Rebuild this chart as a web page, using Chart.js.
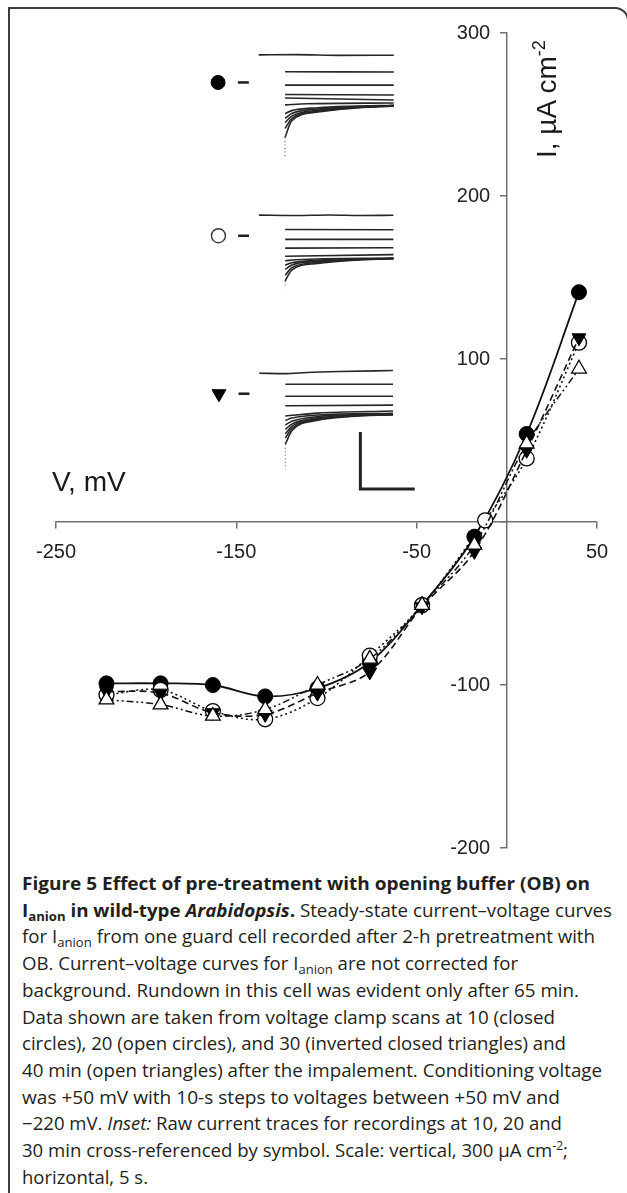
<!DOCTYPE html>
<html>
<head>
<meta charset="utf-8">
<script src="https://cdn.jsdelivr.net/npm/chart.js@4.4.1/dist/chart.umd.min.js"></script>
<style>
html,body{margin:0;padding:0;background:#fff;}
body{width:627px;height:1193px;position:relative;overflow:hidden;font-family:"Liberation Sans",Arial,sans-serif;color:#222;}
#frame{position:absolute;left:8px;top:7px;width:621px;height:1220px;border:2px solid #3c3c3c;border-top-right-radius:14px;box-sizing:border-box;}
canvas{position:absolute;}
#iv{left:0;top:0;}
#p1{left:198px;top:28px;}
#p2{left:198px;top:186px;}
#p3{left:198px;top:342px;}
.title{position:absolute;font-size:28px;line-height:28px;white-space:nowrap;color:#1a1a1a;}
#vtitle{left:52px;top:468px;}
#ititle{left:533px;top:158px;transform-origin:0 0;transform:rotate(-90deg);}
#ititle sup{font-size:18px;vertical-align:11px;line-height:0;}
#caption{position:absolute;left:22px;top:870px;font-family:"Open Sans","Noto Sans",sans-serif;font-size:18px;line-height:26.73px;color:#231f20;}
.ln{display:block;white-space:nowrap;width:max-content;transform-origin:0 50%;height:26.73px;}
.ln sub{font-size:70%;vertical-align:-4px;line-height:0;}
.ln sup{font-size:65%;vertical-align:7px;line-height:0;}
b{font-weight:700;}
</style>
</head>
<body>
<div id="frame"></div>
<canvas id="iv" width="627" height="870"></canvas>
<canvas id="p1" width="229" height="150"></canvas>
<canvas id="p2" width="229" height="120"></canvas>
<canvas id="p3" width="229" height="164"></canvas>
<div class="title" id="vtitle">V, mV</div>
<div class="title" id="ititle">I, µA cm<sup>-2</sup></div>
<div id="caption">
<span class="ln" data-w="568"><b>Figure 5 Effect of pre-treatment with opening buffer (OB) on</b></span>
<span class="ln" data-w="590"><b>I<sub>anion</sub> in wild-type <i>Arabidopsis</i>.</b> Steady-state current–voltage curves</span>
<span class="ln" data-w="573">for I<sub>anion</sub> from one guard cell recorded after 2-h pretreatment with</span>
<span class="ln" data-w="496">OB. Current–voltage curves for I<sub>anion</sub> are not corrected for</span>
<span class="ln" data-w="557">background. Rundown in this cell was evident only after 65 min.</span>
<span class="ln" data-w="533">Data shown are taken from voltage clamp scans at 10 (closed</span>
<span class="ln" data-w="544">circles), 20 (open circles), and 30 (inverted closed triangles) and</span>
<span class="ln" data-w="580">40 min (open triangles) after the impalement. Conditioning voltage</span>
<span class="ln" data-w="538">was +50 mV with 10-s steps to voltages between +50 mV and</span>
<span class="ln" data-w="540">−220 mV. <i>Inset:</i> Raw current traces for recordings at 10, 20 and</span>
<span class="ln" data-w="546">30 min cross-referenced by symbol. Scale: vertical, 300 µA cm<sup>-2</sup>;</span>
<span class="ln" data-w="126">horizontal, 5 s.</span>
</div>
<script>
// ---------- main current-voltage data (mV, µA cm-2) ----------
const voltage = [-222, -192, -163, -134, -105, -76, -47, -18, 11, 40];
const voltageOpenCircles = [-222, -192, -163, -134, -105, -76, -47, -12, 11, 40];
const closedCircles10min = [-99, -99, -100, -107, -102, -86, -51, -9, 54, 141];
const openCircles20min = [-106, -103, -116, -121, -108, -82, -51, 1, 39, 110];
const closedTriangles30min = [-104, -105, -117, -118, -105, -92, -52, -18, 44, 113];
const openTriangles40min = [-109, -112, -119, -115, -100, -84, -51, -14, 48, 94];
const xTickValues = [-250, -150, -50, 50];
const yTickValues = [300, 200, 100, 0, -100, -200];

// ---------- inset raw current traces: [time s, current µA cm-2] ----------
const traces10min = [
  [[-2.4,145],[1,146],[5,142],[9.9,143]],
  [[0,56],[9.9,55]],
  [[0,-14],[9.9,-14]],
  [[0,-63],[9.9,-66]],
  [[0,-82],[9.9,-92]],
  [[0,-118],[2,-112],[9.9,-108]],
  [[0,-164],[0.6,-148],[3,-133],[6,-125],[9.9,-120]],
  [[0,-188],[0.6,-163],[3,-140],[6,-129],[9.9,-121]],
  [[0,-211],[0.6,-177],[3,-146],[6,-132],[9.9,-122]],
  [[0,-242],[0.6,-190],[3,-151],[6,-134],[9.9,-123]],
  [[0,-289],[0.6,-202],[3,-155],[6,-136],[9.9,-124]]
];
const transient10min = [[0,-289],[0,-390]];
const traces20min = [
  [[-2.4,112],[1,110],[4,113],[7,110],[9.9,111]],
  [[0,34],[9.9,32]],
  [[0,-20],[9.9,-20]],
  [[0,-68],[9.9,-66]],
  [[0,-112],[9.9,-103]],
  [[0,-137],[1,-131],[9.9,-122]],
  [[0,-161],[0.6,-148],[3,-134],[6,-127],[9.9,-123]],
  [[0,-184],[0.6,-160],[3,-140],[6,-130],[9.9,-124]],
  [[0,-216],[0.6,-175],[3,-146],[6,-133],[9.9,-125]],
  [[0,-247],[0.6,-188],[3,-151],[6,-135],[9.9,-126]]
];
const transient20min = [[0,-247],[0,-286]];
const traces30min = [
  [[-2.4,108],[0,106],[2,112],[5,117],[9.9,122]],
  [[0,50],[9.9,50]],
  [[0,-13],[9.9,-13]],
  [[0,-63],[9.9,-60]],
  [[0,-117],[3,-102],[9.9,-91]],
  [[0,-141],[0.6,-128],[3,-112],[9.9,-103]],
  [[0,-164],[0.6,-145],[3,-120],[6,-111],[9.9,-106]],
  [[0,-188],[0.6,-160],[3,-127],[6,-114],[9.9,-108]],
  [[0,-211],[0.6,-172],[3,-132],[6,-116],[9.9,-109]],
  [[0,-234],[0.6,-183],[3,-136],[6,-118],[9.9,-110]],
  [[0,-266],[0.6,-195],[3,-140],[6,-120],[9.9,-111]]
];
const transient30min = [[0,-266],[0,-398]];
const zeroMarkTimes = [-4.3, -3.3];
const symbolTime = -6.1;
const scaleBar = [[6.9,-202],[6.9,-502],[11.9,-502]]; // 300 µA cm-2 by 5 s

const pts = (xs, ys) => xs.map((x, i) => ({x, y: ys[i]}));
const pairs = arr => arr.map(([x, y]) => ({x, y}));
const tickFont = {family: '"Liberation Sans", Arial, sans-serif', size: 20};
const axisColor = '#707070';

new Chart(document.getElementById('iv'), {
  type: 'scatter',
  data: {
    datasets: [
      {label: '10 min', data: pts(voltage, closedCircles10min), showLine: true, tension: 0.35,
       borderColor: '#111', borderWidth: 1.8, pointStyle: 'circle', pointRadius: 7.5,
       pointBackgroundColor: '#000', pointBorderColor: '#000', pointBorderWidth: 1, order: 4},
      {label: '20 min', data: pts(voltageOpenCircles, openCircles20min), showLine: true, tension: 0.35,
       borderColor: '#111', borderWidth: 1.6, borderDash: [2, 3], pointStyle: 'circle', pointRadius: 7.5,
       pointBackgroundColor: '#fff', pointBorderColor: '#000', pointBorderWidth: 1.3, order: 3},
      {label: '30 min', data: pts(voltage, closedTriangles30min), showLine: true, tension: 0.35,
       borderColor: '#111', borderWidth: 1.6, borderDash: [7, 4], pointStyle: 'triangle', rotation: 180,
       pointRadius: 8, pointBackgroundColor: '#000', pointBorderColor: '#000', pointBorderWidth: 1, order: 2},
      {label: '40 min', data: pts(voltage, openTriangles40min), showLine: true, tension: 0.35,
       borderColor: '#111', borderWidth: 1.5, borderDash: [7, 3, 2, 3, 2, 3], pointStyle: 'triangle',
       pointRadius: 8.5, pointBackgroundColor: '#fff', pointBorderColor: '#000', pointBorderWidth: 1.3, order: 1}
    ]
  },
  options: {
    responsive: false, animation: false, events: [],
    layout: {padding: {left: 56, right: 30, top: 33, bottom: 22}},
    plugins: {legend: {display: false}, tooltip: {enabled: false}},
    scales: {
      x: {
        type: 'linear', min: -250, max: 50, position: {y: 0},
        afterBuildTicks: s => { s.ticks = xTickValues.map(v => ({value: v})); },
        grid: {drawOnChartArea: false, drawTicks: true, tickLength: 6, color: axisColor, lineWidth: 1.5},
        border: {display: true, color: axisColor, width: 1.5},
        ticks: {color: '#222', font: tickFont, padding: 12, maxRotation: 0, autoSkip: false}
      },
      y: {
        type: 'linear', min: -200, max: 300, position: {x: 0},
        afterBuildTicks: s => { s.ticks = yTickValues.map(v => ({value: v})); },
        grid: {drawOnChartArea: false, drawTicks: true, tickLength: 6, color: axisColor, lineWidth: 1.5},
        border: {display: true, color: axisColor, width: 1.5},
        // trailing spaces keep the right-aligned labels clear of the centred axis line
        ticks: {color: '#222', font: tickFont, padding: 10, autoSkip: false,
                callback: v => (v === 0 ? '' : String(v) + '   ')}
      }
    }
  }
});

function insetChart(id, yMin, yMax, traces, transient, symbol, extra) {
  const ds = traces.map(t => ({data: pairs(t), showLine: true, pointRadius: 0, borderColor: '#262626',
    borderWidth: 1.6, cubicInterpolationMode: 'monotone'}));
  ds.push({data: pairs(transient), showLine: true, pointRadius: 0, borderColor: '#555', borderWidth: 1, borderDash: [1, 2.5]});
  ds.push({data: zeroMarkTimes.map(t => ({x: t, y: 0})), showLine: true, pointRadius: 0, borderColor: '#222', borderWidth: 2.6});
  ds.push(Object.assign({data: [{x: symbolTime, y: 0}], showLine: false, borderColor: '#000'}, symbol));
  if (extra) ds.push(extra);
  new Chart(document.getElementById(id), {
    type: 'scatter',
    data: {datasets: ds},
    options: {
      responsive: false, animation: false, events: [],
      layout: {padding: 0},
      plugins: {legend: {display: false}, tooltip: {enabled: false}},
      scales: {x: {type: 'linear', min: -7.2, max: 12.2, display: false},
               y: {type: 'linear', min: yMin, max: yMax, display: false}}
    }
  });
}

insetChart('p1', -460, 244, traces10min, transient10min,
  {pointStyle: 'circle', pointRadius: 7, pointBackgroundColor: '#000', pointBorderColor: '#000'});
insetChart('p2', -337.5, 225, traces20min, transient20min,
  {pointStyle: 'circle', pointRadius: 7, pointBackgroundColor: '#fff', pointBorderColor: '#333', pointBorderWidth: 1.4});
insetChart('p3', -543.75, 225, traces30min, transient30min,
  {pointStyle: 'triangle', rotation: 180, pointRadius: 8, pointBackgroundColor: '#000', pointBorderColor: '#000'},
  {data: pairs(scaleBar), showLine: true, pointRadius: 0, borderColor: '#222', borderWidth: 3});

function fitCaption() {
  document.querySelectorAll('.ln').forEach(el => {
    el.style.transform = 'none';
    const w = el.getBoundingClientRect().width;
    const target = parseFloat(el.dataset.w);
    if (w > 0) el.style.transform = 'scaleX(' + (target / w) + ')';
  });
}
fitCaption();
if (document.fonts && document.fonts.ready) document.fonts.ready.then(fitCaption);
</script>
</body>
</html>
